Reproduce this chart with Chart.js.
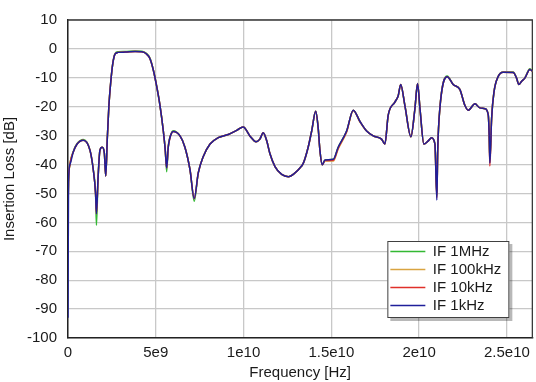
<!DOCTYPE html>
<html>
<head>
<meta charset="utf-8">
<script src="https://cdn.jsdelivr.net/npm/chart.js@4/dist/chart.umd.min.js"></script>
<style>
html,body{margin:0;padding:0;background:#fff;}
#wrap{width:536px;height:382px;position:relative;}
</style>
</head>
<body>
<div id="wrap"><canvas id="c" width="536" height="382"></canvas></div>
<script>
// Frequency axis values in GHz (converted to Hz for the chart)
const freqGHz = [
  0.00, 0.03, 0.11, 0.30, 0.51, 0.87, 1.25, 1.44, 1.57, 1.62,
  1.71, 1.82, 1.95, 2.07, 2.15, 2.24, 2.33, 2.43, 2.55, 2.68,
  2.86, 3.25, 3.82, 4.21, 4.44, 4.67, 4.86, 5.05, 5.24, 5.43,
  5.54, 5.62, 5.71, 5.91, 6.00, 6.38, 6.66, 6.95, 7.19, 7.42,
  7.70, 8.09, 8.56, 9.13, 9.61, 9.98, 10.36, 10.71, 10.93, 11.12,
  11.32, 11.50, 11.79, 12.17, 12.55, 12.93, 13.21, 13.40, 13.68, 13.88,
  14.11, 14.25, 14.35, 14.48, 14.64, 15.11, 15.39, 15.87, 16.25, 16.63,
  17.01, 17.39, 17.86, 18.05, 18.24, 18.62, 18.81, 18.95, 19.19, 19.53,
  19.76, 19.91, 20.05, 20.27, 20.52, 20.71, 20.90, 21.01, 21.06, 21.18,
  21.60, 21.94, 22.32, 22.61, 22.80, 23.18, 23.46, 23.75, 23.94, 23.99,
  24.03, 24.13, 24.26, 24.50, 24.79, 25.36, 25.55, 25.68, 25.84, 26.02,
  26.31, 26.48
];

const if1kHz = [
  -93, -46, -40, -35.7, -33, -31.6, -35, -41.8, -50, -57,
  -45, -35, -34, -36, -44, -30.7, -19.6, -11.8, -5.1, -1.8,
  -1.2, -1.1, -0.9, -1.0, -1.6, -3.4, -7.3, -12.9, -19.6, -28.4,
  -35, -41.2, -34, -29, -28.6, -30.1, -34, -41.8, -51.8, -42.9,
  -37.3, -32.9, -30.7, -29.6, -28.2, -27, -30.1, -32.1, -31.2, -29,
  -31.8, -36.2, -40.7, -43.4, -44.2, -42.9, -41.2, -39.6, -34, -28.4,
  -21.6, -27.3, -35.1, -40.1, -38.4, -38.2, -34, -28.4, -21.2, -25.1,
  -28.4, -30.1, -31.2, -32.9, -22.9, -18.4, -16.2, -12.3, -19.6, -30.4,
  -20.7, -12, -20.7, -32.9, -31.8, -30.7, -32.9, -52.3, -35, -20.7,
  -9.6, -12.3, -14, -19.6, -21.2, -19, -20.4, -20.7, -22.9, -29.6,
  -39.5, -24, -15.1, -9.6, -8.1, -8.2, -10.1, -12.3, -11.2, -10.1,
  -7.1, -7.9
];

const if10kHz = [
  -57, -46, -40, -35.7, -33, -31.6, -35, -41.8, -50, -57,
  -45, -35, -34, -36, -44, -30.7, -19.6, -11.8, -5.1, -1.8,
  -1.2, -1.1, -0.9, -1.0, -1.6, -3.4, -7.3, -12.9, -19.6, -28.4,
  -35, -41.2, -34, -29, -28.6, -30.1, -34, -41.8, -51.8, -42.9,
  -37.3, -32.9, -30.7, -29.6, -28.2, -27, -30.1, -32.1, -31.2, -29,
  -31.8, -36.2, -40.7, -43.4, -44.2, -42.9, -41.2, -39.6, -34, -28.4,
  -21.6, -27.3, -35.1, -40.1, -38.6, -38.5, -34.3, -28.6, -21.2, -25.1,
  -28.4, -30.1, -31.2, -32.9, -22.9, -18.4, -16.2, -12.3, -19.6, -30.4,
  -20.7, -12, -20.7, -32.9, -31.8, -30.7, -32.9, -51.5, -35, -20.7,
  -9.6, -12.3, -14, -19.6, -21.2, -19, -20.4, -20.7, -22.9, -29.6,
  -40.5, -24, -15.1, -9.6, -8.1, -8.2, -10.1, -12.3, -11.2, -10.1,
  -7.1, -7.9
];

const if100kHz = [
  -57, -46, -40, -35.7, -33, -31.6, -35, -41.8, -50, -57,
  -45, -35, -34, -36, -44, -30.7, -19.6, -11.8, -5.1, -1.8,
  -1.2, -1.1, -0.9, -1.0, -1.6, -3.4, -7.3, -12.9, -19.6, -28.4,
  -35, -41.2, -34, -29, -28.6, -30.1, -34, -41.8, -51.8, -42.9,
  -37.3, -32.9, -30.7, -29.6, -28.2, -27, -30.1, -32.1, -31.2, -29,
  -31.8, -36.2, -40.7, -43.4, -44.2, -42.9, -41.2, -39.6, -34, -28.4,
  -21.6, -27.3, -35.1, -40.1, -38.8, -38.8, -34.6, -28.8, -21.4, -25.3,
  -28.4, -30.1, -31.2, -32.9, -22.9, -18.4, -16.2, -12.3, -19.6, -30.4,
  -20.7, -12, -20.7, -32.9, -31.8, -30.7, -32.9, -51, -35, -20.7,
  -9.6, -12.3, -14, -19.6, -21.2, -19, -20.4, -20.7, -22.9, -29.6,
  -39.2, -24, -15.1, -9.6, -8.1, -8.2, -10.1, -12.3, -11.2, -10.1,
  -7.1, -7.9
];

const if1MHz = [
  -56, -46, -40, -35.5, -32.8, -31.3, -35, -41.8, -50, -61,
  -45, -35, -34, -36, -44, -30.7, -19.6, -11.8, -5.1, -1.6,
  -1.0, -0.9, -0.7, -0.8, -1.4, -3.2, -7.3, -12.9, -19.6, -28.4,
  -35, -42.5, -34, -28.8, -28.3, -30.1, -34, -41.8, -52.7, -42.9,
  -37.3, -32.9, -30.7, -29.6, -28.2, -27, -30.1, -32.1, -31.2, -29,
  -31.8, -36.2, -40.7, -43.4, -44.2, -42.9, -41.2, -39.6, -34, -28.4,
  -21.6, -27.3, -35.1, -40.1, -38.4, -38.2, -34, -28.4, -21.2, -25.1,
  -28.4, -30.1, -31.2, -32.9, -22.9, -18.4, -16.2, -12.3, -19.6, -30.4,
  -20.7, -12, -20.7, -32.9, -31.8, -30.7, -32.9, -50.5, -35, -20.7,
  -9.4, -12.3, -14, -19.6, -21.2, -19, -20.4, -20.7, -22.9, -29.6,
  -38, -24, -15.1, -9.6, -8.0, -8.0, -10.1, -12.3, -11.2, -10.1,
  -6.9, -7.9
];

const seriesNames = ['IF 1kHz', 'IF 10kHz', 'IF 100kHz', 'IF 1MHz'];
const xTickValues = [0, 5e9, 1e10, 1.5e10, 2e10, 2.5e10];
const xTickLabels = ['0', '5e9', '1e10', '1.5e10', '2e10', '2.5e10'];

const toPoints = (vals) => freqGHz.map((f, i) => ({ x: f * 1e9, y: vals[i] }));

const FONT = "'Liberation Sans', Arial, sans-serif";

// draws chart-area frame (top & right edges) and legend box frame
const framePlugin = {
  id: 'framePlugin',
  beforeDraw(chart) {
    const lg = chart.legend;
    const ca = chart.chartArea;
    lg.left = ca.right - 145;
    lg.top = ca.bottom - 97;
    lg.width = 122;
    lg.right = lg.left + 122;
    lg.height = 200;
    lg.bottom = lg.top + 200;
    if (!lg._framed) {
      const orig = lg.draw;
      lg.draw = function () {
        const ctx = this.ctx;
        ctx.save();
        ctx.fillStyle = 'rgba(0,0,0,0.28)';
        ctx.fillRect(this.left + 3, this.top + 3, 122, 77);
        ctx.fillStyle = '#ffffff';
        ctx.fillRect(this.left, this.top, 122, 77);
        ctx.strokeStyle = '#404040';
        ctx.lineWidth = 1;
        ctx.strokeRect(this.left + 0.5, this.top + 0.5, 121, 76);
        ctx.restore();
        orig.apply(this, arguments);
      };
      lg._framed = true;
    }
  },
  beforeDatasetsDraw(chart) {
    const ca = chart.chartArea;
    const ctx = chart.ctx;
    ctx.save();
    ctx.strokeStyle = '#3a3a3a';
    ctx.lineWidth = 1.3;
    ctx.beginPath();
    ctx.moveTo(ca.left, ca.top);
    ctx.lineTo(ca.right, ca.top);
    ctx.lineTo(ca.right, ca.bottom);
    ctx.stroke();
    ctx.restore();
  }
};

const colors = ['#1f1f9a', '#e0302a', '#d9a441', '#33b833'];
const seriesVals = [if1kHz, if10kHz, if100kHz, if1MHz];

new Chart(document.getElementById('c'), {
  type: 'line',
  data: {
    datasets: seriesVals.map((v, i) => ({
      label: seriesNames[i],
      data: toPoints(v),
      borderColor: colors[i],
      backgroundColor: colors[i],
      borderWidth: 1.5,
      pointRadius: 0,
      cubicInterpolationMode: 'monotone',
      fill: false
    }))
  },
  plugins: [framePlugin],
  options: {
    responsive: false,
    animation: false,
    events: [],
    layout: { padding: { top: 8, right: 3, left: 0, bottom: 0 } },
    plugins: {
      tooltip: { enabled: false },
      legend: {
        display: true,
        position: 'chartArea',
        align: 'start',
        labels: {
          usePointStyle: true,
          pointStyle: 'line',
          pointStyleWidth: 35,
          padding: 3,
          color: '#1a1a1a',
          font: { family: FONT, size: 15 },
          sort: (a, b) => b.datasetIndex - a.datasetIndex
        }
      }
    },
    scales: {
      x: {
        type: 'linear',
        min: 0,
        max: 2.645e10,
        afterFit: (s) => { s.height = 44; },
        afterBuildTicks: (s) => { s.ticks = xTickValues.map(v => ({ value: v })); },
        ticks: {
          padding: 6,
          color: '#1a1a1a',
          font: { family: FONT, size: 15 },
          maxRotation: 0,
          autoSkip: false,
          callback: (v, i) => xTickLabels[i]
        },
        grid: { color: '#c8c8c8', lineWidth: 1.3, drawTicks: false },
        border: { color: '#222222', width: 1.5 },
        title: {
          display: true,
          text: 'Frequency [Hz]',
          color: '#1a1a1a',
          font: { family: FONT, size: 15 },
          padding: { top: 0, bottom: 0 }
        }
      },
      y: {
        type: 'linear',
        min: -100,
        max: 10,
        afterFit: (s) => { s.width = 68; },
        ticks: {
          stepSize: 10,
          padding: 11,
          color: '#1a1a1a',
          font: { family: FONT, size: 15 }
        },
        grid: { color: '#c8c8c8', lineWidth: 1.3, drawTicks: false },
        border: { color: '#222222', width: 1.5 },
        title: {
          display: true,
          text: 'Insertion Loss [dB]',
          color: '#1a1a1a',
          font: { family: FONT, size: 15 },
          padding: { top: 1, bottom: 0 }
        }
      }
    }
  }
});
</script>
</body>
</html>
